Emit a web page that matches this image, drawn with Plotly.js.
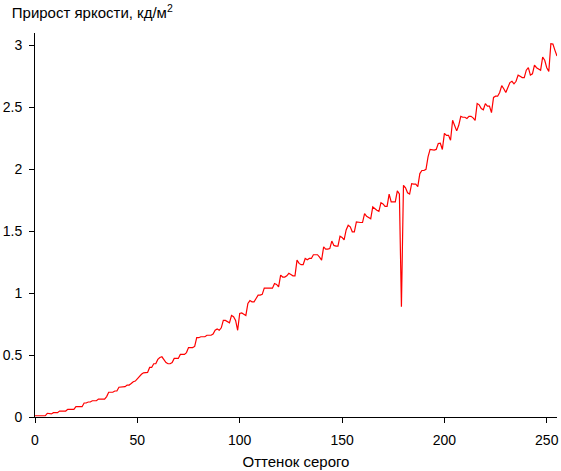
<!DOCTYPE html>
<html>
<head>
<meta charset="utf-8">
<script src="https://cdn.plot.ly/plotly-3.0.1.min.js"></script>
<style>html,body{margin:0;padding:0;background:#fff;}#chart{width:561px;height:471px;}</style>
</head>
<body>
<div id="chart"></div>
<script>
// Gray level (x) values 0..255
const grayLevels = Array.from({length: 256}, (_, i) => i);

// Brightness increment, cd/m2 (one value per gray level)
const increment0to63 = [
  0.01, 0.01, 0.01, 0.01, 0.01, 0.01, 0.03, 0.025, 0.025, 0.035,
  0.035, 0.035, 0.048, 0.048, 0.048, 0.048, 0.062, 0.062, 0.062, 0.062,
  0.083, 0.083, 0.083, 0.083, 0.113, 0.113, 0.121, 0.121, 0.131, 0.131,
  0.131, 0.145, 0.145, 0.145, 0.145, 0.165, 0.2, 0.2, 0.2, 0.21,
  0.21, 0.24, 0.24, 0.24, 0.245, 0.258, 0.258, 0.27, 0.285, 0.29,
  0.31, 0.325, 0.345, 0.357, 0.357, 0.36, 0.40, 0.40, 0.43, 0.43,
  0.465, 0.48, 0.486, 0.46
];
const increment64to127 = [
  0.44, 0.43, 0.43, 0.44, 0.473, 0.473, 0.473, 0.505, 0.505, 0.505,
  0.52, 0.56, 0.56, 0.56, 0.57, 0.64, 0.64, 0.648, 0.648, 0.648,
  0.66, 0.66, 0.66, 0.67, 0.70, 0.71, 0.70, 0.72, 0.78, 0.78,
  0.77, 0.76, 0.82, 0.81, 0.78, 0.70, 0.836, 0.84, 0.83, 0.82,
  0.917, 0.94, 0.93, 0.93, 0.957, 0.984, 0.984, 0.99, 1.04, 1.04,
  1.04, 1.04, 1.04, 1.078, 1.07, 1.05, 1.145, 1.13, 1.13, 1.14,
  1.16, 1.15, 1.14, 1.14
];
const increment128to191 = [
  1.266, 1.24, 1.23, 1.23, 1.28, 1.27, 1.28, 1.28, 1.31, 1.31,
  1.31, 1.29, 1.266, 1.373, 1.355, 1.355, 1.36, 1.42, 1.385, 1.38,
  1.38, 1.46, 1.45, 1.43, 1.51, 1.548, 1.535, 1.495, 1.495, 1.575,
  1.57, 1.57, 1.57, 1.642, 1.62, 1.61, 1.60, 1.696, 1.68, 1.67,
  1.66, 1.73, 1.72, 1.70, 1.70, 1.80, 1.737, 1.737, 1.737, 1.825,
  1.80, 0.89, 1.87, 1.85, 1.81, 1.80, 1.884, 1.88, 1.88, 1.86,
  1.965, 1.99, 1.99, 2.0
];
const increment192to255 = [
  2.10, 2.16, 2.155, 2.155, 2.16, 2.207, 2.21, 2.16, 2.29, 2.274,
  2.274, 2.234, 2.395, 2.355, 2.31, 2.355, 2.427, 2.42, 2.42, 2.41,
  2.427, 2.427, 2.415, 2.395, 2.53, 2.52, 2.49, 2.48, 2.53, 2.51,
  2.51, 2.457, 2.58, 2.59, 2.59, 2.62, 2.675, 2.65, 2.62, 2.66,
  2.70, 2.71, 2.69, 2.71, 2.76, 2.75, 2.74, 2.74, 2.80, 2.82,
  2.76, 2.77, 2.84, 2.82, 2.81, 2.80, 2.905, 2.88, 2.82, 2.79,
  3.013, 3.01, 2.96, 2.914
];
const brightnessIncrement = increment0to63.concat(increment64to127, increment128to191, increment192to255);

const xTickValues = [0, 50, 100, 150, 200, 250];
const yTickValues = [0, 0.5, 1, 1.5, 2, 2.5, 3];
const yTickLabels = ['0', '0.5', '1', '1.5', '2', '2.5', '3'];

const chartTitle = 'Прирост яркости, кд/м<sup>2</sup>';
const xAxisTitle = 'Оттенок серого';

const font = 'Liberation Sans, Arial, sans-serif';

Plotly.newPlot('chart', [{
  x: grayLevels,
  y: brightnessIncrement,
  type: 'scatter',
  mode: 'lines',
  line: {color: '#ff0000', width: 1.2},
  hoverinfo: 'skip'
}], {
  width: 561,
  height: 471,
  margin: {l: 35, r: 4, t: 33, b: 54},
  paper_bgcolor: '#ffffff',
  plot_bgcolor: '#ffffff',
  showlegend: false,
  font: {family: font, color: '#000', size: 13},
  title: {
    text: chartTitle,
    xref: 'container', yref: 'container',
    x: 0.021, xanchor: 'left',
    y: 0.972, yanchor: 'middle',
    font: {family: font, size: 15, color: '#000'}
  },
  xaxis: {
    range: [0, 255],
    tickvals: xTickValues,
    ticks: 'outside', ticklen: 5, tickwidth: 1, tickcolor: '#000',
    ticklabelstandoff: 5,
    showline: true, linecolor: '#000', linewidth: 1,
    showgrid: false, zeroline: false,
    tickfont: {family: font, size: 14, color: '#000'},
    title: {text: xAxisTitle, font: {family: font, size: 15, color: '#000'}, standoff: 9}
  },
  yaxis: {
    range: [0, 3.1],
    tickvals: yTickValues,
    ticktext: yTickLabels,
    ticks: 'outside', ticklen: 5, tickwidth: 1, tickcolor: '#000',
    ticklabelstandoff: 4,
    showline: true, linecolor: '#000', linewidth: 1,
    showgrid: false, zeroline: false,
    tickfont: {family: font, size: 14, color: '#000'}
  }
}, {staticPlot: true, displayModeBar: false});
</script>
</body>
</html>
